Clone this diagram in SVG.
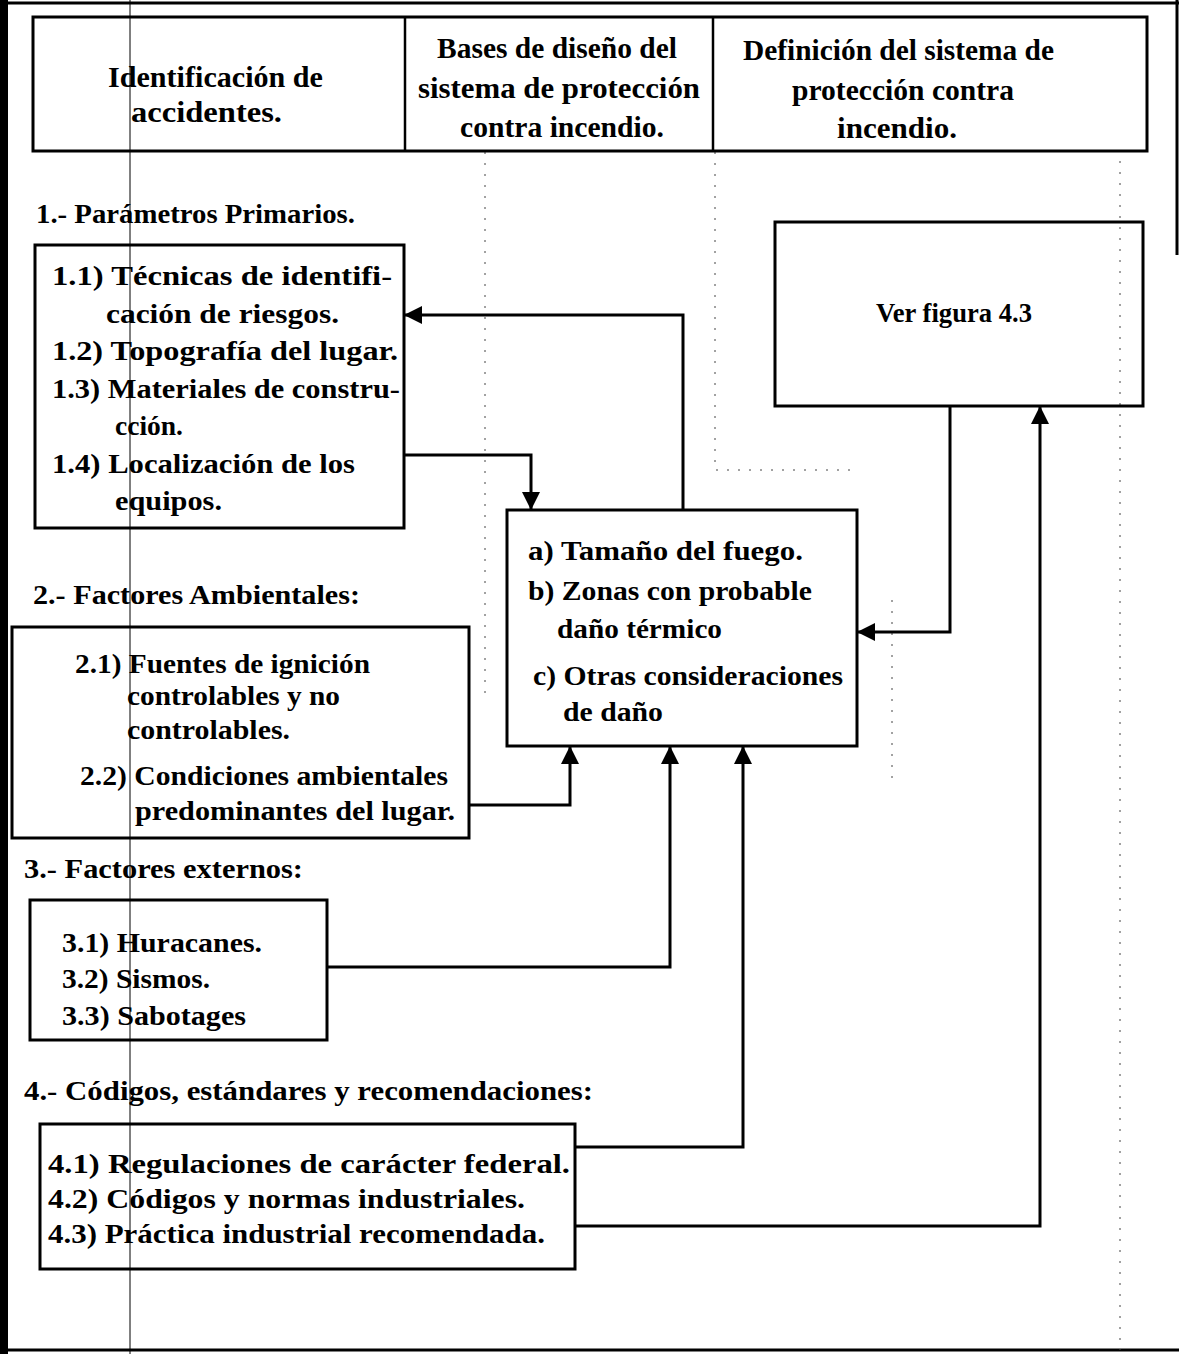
<svg xmlns="http://www.w3.org/2000/svg" width="1179" height="1354" viewBox="0 0 1179 1354">
<defs>
<style>
text{font-family:"Liberation Serif","Times New Roman",serif;font-weight:bold;fill:#000;font-size:27px}
.h{font-size:29px}
.box{fill:none;stroke:#000;stroke-width:3}
.conn{fill:none;stroke:#000;stroke-width:3}
.guide{fill:none;stroke:#444;stroke-width:1;stroke-dasharray:2 9}
</style>
<marker id="ah" markerUnits="userSpaceOnUse" markerWidth="18" markerHeight="18" refX="17" refY="9" orient="auto">
<path d="M0,0 L18,9 L0,18 z" fill="#000"/>
</marker>
</defs>
<rect width="1179" height="1354" fill="#fff"/>
<g id="frame">
<rect x="0" y="0" width="8" height="1354" fill="#000"/>
<line x1="0" y1="3" x2="1179" y2="3" stroke="#000" stroke-width="3"/>
<line x1="0" y1="1350" x2="1179" y2="1350" stroke="#000" stroke-width="3"/>
<line x1="1177" y1="0" x2="1177" y2="255" stroke="#000" stroke-width="3"/>
<line x1="130" y1="0" x2="130" y2="1354" stroke="#000" stroke-width="1"/>
<path class="guide" d="M485,152 V700 M715,152 V470 H850 M892,600 V780 M1120,150 V1350"/>
</g>
<g id="header">
<rect class="box" x="33" y="17" width="1114" height="134"/>
<line x1="405" y1="17" x2="405" y2="151" stroke="#000" stroke-width="2.5"/>
<line x1="713" y1="17" x2="713" y2="151" stroke="#000" stroke-width="2.5"/>
<text class="h" x="108" y="87" textLength="215" lengthAdjust="spacingAndGlyphs">Identificación de</text>
<text class="h" x="131" y="122" textLength="151" lengthAdjust="spacingAndGlyphs">accidentes.</text>
<text class="h" x="437" y="58" textLength="240" lengthAdjust="spacingAndGlyphs">Bases de diseño del</text>
<text class="h" x="418" y="98" textLength="282" lengthAdjust="spacingAndGlyphs">sistema  de protección</text>
<text class="h" x="460" y="137" textLength="204" lengthAdjust="spacingAndGlyphs">contra incendio.</text>
<text class="h" x="743" y="60" textLength="311" lengthAdjust="spacingAndGlyphs">Definición del sistema de</text>
<text class="h" x="792" y="100" textLength="222" lengthAdjust="spacingAndGlyphs">protección contra</text>
<text class="h" x="837" y="138" textLength="120" lengthAdjust="spacingAndGlyphs">incendio.</text>
</g>
<g id="labels">
<text x="36" y="223" textLength="319" lengthAdjust="spacingAndGlyphs">1.- Parámetros Primarios.</text>
<text x="33" y="604" textLength="327" lengthAdjust="spacingAndGlyphs">2.- Factores Ambientales:</text>
<text x="24" y="878" textLength="279" lengthAdjust="spacingAndGlyphs">3.- Factores externos:</text>
<text x="24" y="1100" textLength="569" lengthAdjust="spacingAndGlyphs">4.- Códigos, estándares y recomendaciones:</text>
</g>
<g id="node-1">
<rect class="box" x="35" y="245" width="369" height="283"/>
<text x="52" y="285" textLength="340" lengthAdjust="spacingAndGlyphs">1.1) Técnicas de identifi-</text>
<text x="106" y="323" textLength="233" lengthAdjust="spacingAndGlyphs">cación de riesgos.</text>
<text x="52" y="360" textLength="346" lengthAdjust="spacingAndGlyphs">1.2) Topografía del lugar.</text>
<text x="52" y="398" textLength="348" lengthAdjust="spacingAndGlyphs">1.3) Materiales de constru-</text>
<text x="115" y="435" textLength="68" lengthAdjust="spacingAndGlyphs">cción.</text>
<text x="52" y="473" textLength="303" lengthAdjust="spacingAndGlyphs">1.4) Localización de los</text>
<text x="115" y="510" textLength="107" lengthAdjust="spacingAndGlyphs">equipos.</text>
</g>
<g id="node-2">
<rect class="box" x="12" y="627" width="457" height="211"/>
<text x="75" y="673" textLength="295" lengthAdjust="spacingAndGlyphs">2.1) Fuentes de ignición</text>
<text x="127" y="705" textLength="213" lengthAdjust="spacingAndGlyphs">controlables y no</text>
<text x="127" y="739" textLength="163" lengthAdjust="spacingAndGlyphs">controlables.</text>
<text x="80" y="785" textLength="368" lengthAdjust="spacingAndGlyphs">2.2) Condiciones ambientales</text>
<text x="135" y="820" textLength="320" lengthAdjust="spacingAndGlyphs">predominantes del lugar.</text>
</g>
<g id="node-3">
<rect class="box" x="30" y="900" width="297" height="140"/>
<text x="62" y="952" textLength="200" lengthAdjust="spacingAndGlyphs">3.1) Huracanes.</text>
<text x="62" y="988" textLength="148" lengthAdjust="spacingAndGlyphs">3.2) Sismos.</text>
<text x="62" y="1025" textLength="184" lengthAdjust="spacingAndGlyphs">3.3) Sabotages</text>
</g>
<g id="node-4">
<rect class="box" x="40" y="1124" width="535" height="145"/>
<text x="48" y="1173" textLength="522" lengthAdjust="spacingAndGlyphs">4.1) Regulaciones de carácter federal.</text>
<text x="48" y="1208" textLength="477" lengthAdjust="spacingAndGlyphs">4.2) Códigos y normas industriales.</text>
<text x="48" y="1243" textLength="497" lengthAdjust="spacingAndGlyphs">4.3) Práctica industrial recomendada.</text>
</g>
<g id="node-center">
<rect class="box" x="507" y="510" width="350" height="236"/>
<text x="528" y="560" textLength="275" lengthAdjust="spacingAndGlyphs">a) Tamaño del fuego.</text>
<text x="528" y="600" textLength="284" lengthAdjust="spacingAndGlyphs">b) Zonas con probable</text>
<text x="557" y="638" textLength="165" lengthAdjust="spacingAndGlyphs">daño térmico</text>
<text x="533" y="685" textLength="310" lengthAdjust="spacingAndGlyphs">c) Otras consideraciones</text>
<text x="563" y="721" textLength="100" lengthAdjust="spacingAndGlyphs">de daño</text>
</g>
<g id="node-fig">
<rect class="box" x="775" y="222" width="368" height="184"/>
<text x="876" y="322" textLength="156" lengthAdjust="spacingAndGlyphs">Ver figura 4.3</text>
</g>
<g id="connectors">
<path class="conn" d="M683,510 V315 H405" marker-end="url(#ah)"/>
<path class="conn" d="M404,455 H531 V509" marker-end="url(#ah)"/>
<path class="conn" d="M950,406 V632 H858" marker-end="url(#ah)"/>
<path class="conn" d="M469,805 H570 V747" marker-end="url(#ah)"/>
<path class="conn" d="M327,967 H670 V747" marker-end="url(#ah)"/>
<path class="conn" d="M575,1147 H743 V747" marker-end="url(#ah)"/>
<path class="conn" d="M575,1226 H1040 V407" marker-end="url(#ah)"/>
</g>
</svg>
